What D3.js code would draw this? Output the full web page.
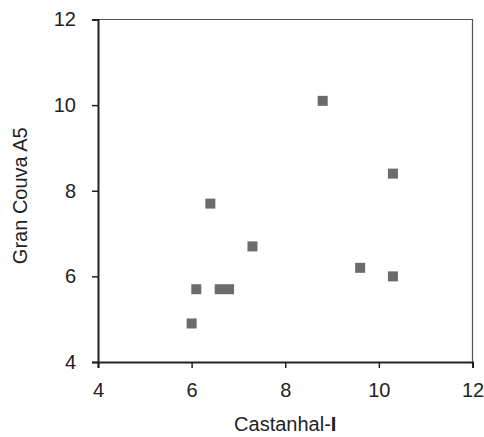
<!DOCTYPE html>
<html>
<head>
<meta charset="utf-8">
<script src="https://cdn.jsdelivr.net/npm/d3@7"></script>
<style>
	html, body { margin: 0; padding: 0; background: #fff; }
	svg text { font-family: 'Liberation Sans', Arial, sans-serif; fill: #222; }
</style>
</head>
<body>
<div id="chart"></div>
<script>
	var castanhal = [6.0, 6.1, 6.6, 6.8, 6.4, 7.3, 8.8, 9.6, 10.3, 10.3];
	var granCouva = [4.9, 5.7, 5.7, 5.7, 7.7, 6.7, 10.1, 6.2, 8.4, 6.0];
	var xTicks = [4, 6, 8, 10, 12];
	var yTicks = [4, 6, 8, 10, 12];

	var width = 484, height = 437;
	var margin = {top: 19.5, right: 11.5, bottom: 75, left: 98};
	var w = width - margin.left - margin.right,
		h = height - margin.top - margin.bottom;

	var svg = d3.select('#chart')
		.append('svg')
		.attr('width', width)
		.attr('height', height);

	var cont = svg.append('g')
		.attr('transform', 'translate(' + margin.left + ',' + margin.top + ')');

	var x = d3.scaleLinear().domain([4, 12]).range([0, w]);
	var y = d3.scaleLinear().domain([4, 12]).range([h, 0]);

	// Frame: thin top and right edges
	cont.append('path')
		.attr('d', 'M0,0H' + w + 'V' + h)
		.attr('fill', 'none')
		.attr('stroke', '#555')
		.attr('stroke-width', 1.2);

	var xAxis = d3.axisBottom(x)
		.tickValues(xTicks)
		.tickSize(6)
		.tickSizeOuter(6)
		.tickPadding(15);

	var yAxis = d3.axisLeft(y)
		.tickValues(yTicks)
		.tickSize(6)
		.tickSizeOuter(6)
		.tickPadding(16);

	var gx = cont.append('g')
		.attr('transform', 'translate(0,' + h + ')')
		.call(xAxis);

	var gy = cont.append('g')
		.call(yAxis);

	[gx, gy].forEach(function(g) {
		g.select('.domain').attr('stroke', '#222').attr('stroke-width', 2);
		g.selectAll('.tick line').attr('stroke', '#222').attr('stroke-width', 1.5);
		g.selectAll('text')
			.attr('font-size', 20)
			.attr('font-family', "'Liberation Sans', Arial, sans-serif")
			.attr('fill', '#222');
	});

	// Points
	cont.selectAll('rect.pt')
		.data(castanhal)
		.enter().append('rect')
			.attr('class', 'pt')
			.attr('x', function(d) { return x(d) - 5; })
			.attr('y', function(d, i) { return y(granCouva[i]) - 5; })
			.attr('width', 10)
			.attr('height', 10)
			.attr('fill', '#6b6b6b');

	// Axis labels
	var xl = svg.append('text')
		.attr('x', margin.left + w / 2)
		.attr('y', 431)
		.attr('text-anchor', 'middle')
		.attr('font-size', 20);
	xl.append('tspan').text('Castanhal-');
	xl.append('tspan').attr('font-weight', 'bold').text('I');

	svg.append('text')
		.attr('transform', 'translate(27,' + (margin.top + h / 2 + 5) + ') rotate(-90)')
		.attr('text-anchor', 'middle')
		.attr('font-size', 20)
		.text('Gran Couva A5');
</script>
</body>
</html>
